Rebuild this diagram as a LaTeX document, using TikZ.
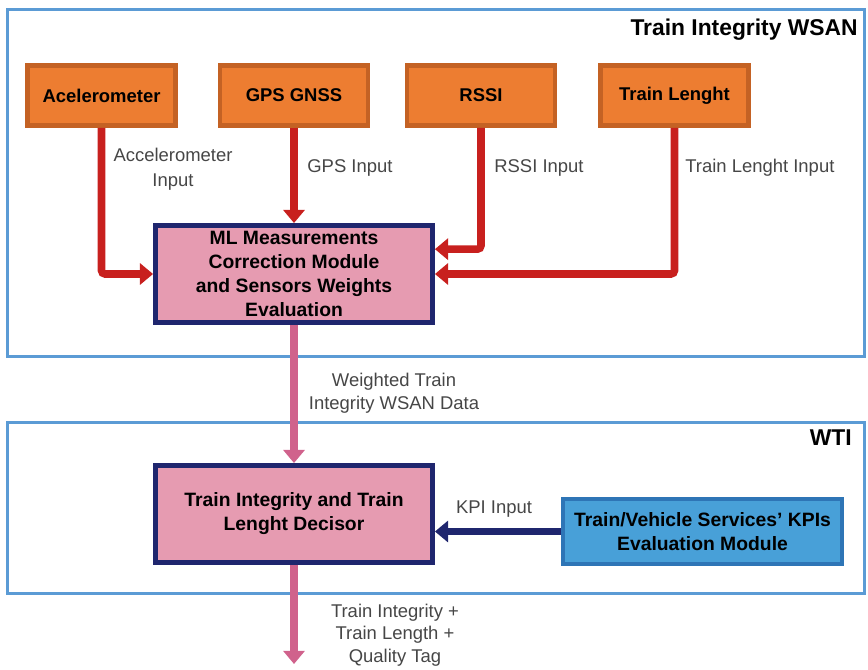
\documentclass[tikz,border=0pt]{standalone}
\usepackage{fontspec}
\setmainfont{Liberation Sans}
\usepackage{tikz}
\usetikzlibrary{
	arrows.meta,
	positioning,
}
\definecolor{frameblue}{RGB}{91,155,213}
\definecolor{sensorfill}{RGB}{237,125,49}
\definecolor{sensorborder}{RGB}{196,98,36}
\definecolor{modulepink}{RGB}{230,155,177}
\definecolor{navy}{RGB}{31,38,110}
\definecolor{kpifill}{RGB}{72,160,216}
\definecolor{kpiborder}{RGB}{46,117,182}
\definecolor{arrowred}{RGB}{200,32,30}
\definecolor{arrowpink}{RGB}{208,98,140}
\definecolor{labelgray}{RGB}{70,70,70}
\tikzset{sensor node/.style={draw=sensorborder,fill=sensorfill,line width=2.8pt,minimum width=2.96cm,minimum height=1.2cm,inner sep=0mm,font=\bfseries\fontsize{10.5}{12}\selectfont,}}
\tikzset{module node/.style={draw=navy,fill=modulepink,line width=2.8pt,minimum width=5.54cm,minimum height=1.94cm,inner sep=0mm,align=center,font=\bfseries\fontsize{11}{13.7}\selectfont,}}
\tikzset{kpi node/.style={module node,draw=kpiborder,fill=kpifill,line width=2.3pt,minimum width=5.58cm,minimum height=1.3cm,}}
\tikzset{frame/.style={draw=frameblue,line width=1.7pt,}}
\tikzset{title/.style={anchor=east,inner sep=0mm,font=\bfseries\fontsize{13}{15}\selectfont,}}
\tikzset{input label/.style={text=labelgray,inner sep=0mm,align=center,font=\fontsize{10.5}{12.8}\selectfont,}}
\tikzset{red arrow/.style={draw=arrowred,line width=4.3pt,rounded corners=2pt,}}
\tikzset{pink arrow/.style={draw=arrowpink,line width=4.3pt,}}
\tikzset{navy arrow/.style={draw=navy,line width=4pt,}}
\tikzset{
	>={Triangle[length=7.5pt,width=12pt]},
}

\begin{document}
\begin{tikzpicture}[x=0.02cm,y=-0.02cm]
\useasboundingbox (0,0) rectangle (868,669);

% frames
\draw[frame] (7.5,9.5) rectangle (864.5,356.5);
\draw[frame] (7.5,422.5) rectangle (864.5,593.5);
\node[title](wsan) at (858,30) {Train Integrity WSAN};
\node[title](wti) at (852,438) {WTI};

% sensors
\node[sensor node](acc) at (101.5,95.5) {Acelerometer};
\node[sensor node](gps) at (294,95.5) {GPS GNSS};
\node[sensor node](rssi) at (481,95.5) {RSSI};
\node[sensor node](tl) at (674.5,95.5) {Train Lenght};

% modules
\node[module node](ml) at (294,274) {ML Measurements\\Correction Module\\and Sensors Weights\\Evaluation};
\node[module node](dec) at (294,514) {Train Integrity and Train\\Lenght Decisor};
\node[kpi node](kpi) at (702.5,531.5) {Train/Vehicle Services' KPIs\\Evaluation Module};
\coordinate(out) at (294,664);

\draw[red arrow,->] (acc) |- (ml.west);
\draw[red arrow,->] (gps) -- (ml);
\draw[red arrow,->] (rssi) |- (ml.10);
\draw[red arrow,->] (tl) |- (ml.east);
\draw[pink arrow,->] (ml) -- (dec);
\draw[pink arrow,->] (dec) -- (out);
\draw[navy arrow,->] (kpi.west) -- (kpi.west -| dec.east);

% labels
\node[input label,font=\fontsize{10.5}{14}\selectfont](acclabel) at (173,169) {Accelerometer\\Input};
\node[input label,anchor=west](gpslabel) at (307,168) {GPS Input};
\node[input label,anchor=west](rssilabel) at (494,168) {RSSI Input};
\node[input label,anchor=west](tllabel) at (685,168) {Train Lenght Input};
\node[input label](wlabel) at (394,393) {Weighted Train\\Integrity WSAN Data};
\node[input label](kpilabel) at (494,509) {KPI Input};
\node[input label](outlabel) at (395,635) {Train Integrity +\\Train Length +\\Quality Tag};

\end{tikzpicture}
\end{document}
